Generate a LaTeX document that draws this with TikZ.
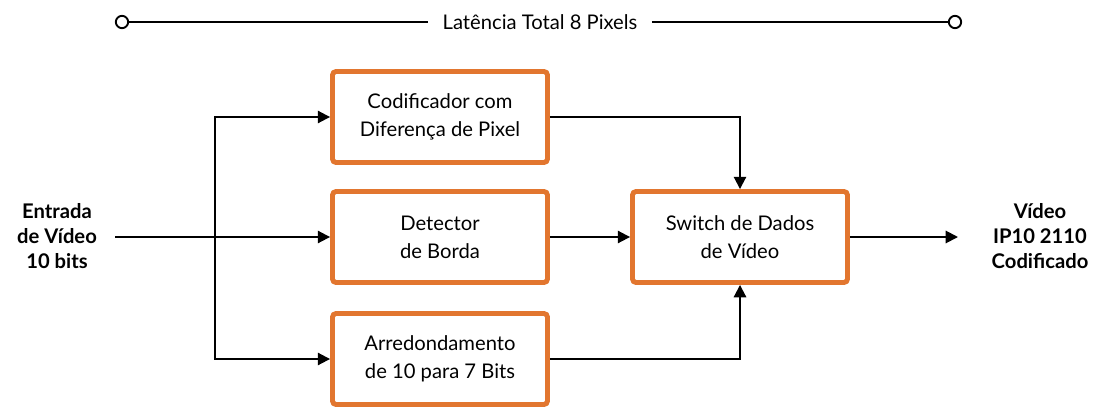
\documentclass[tikz,border=0pt]{standalone}
\usepackage{fontspec}
\setmainfont{Lato}
\usetikzlibrary{arrows.meta}
\definecolor{org}{HTML}{E2762F}
\begin{document}
\begin{tikzpicture}[x=0.02cm,y=-0.02cm,
  box/.style={draw=org,line width=2.8pt,rounded corners=2pt,minimum width=4.3cm,minimum height=1.82cm,align=center,font=\fontsize{11.5}{16}\selectfont},
  arr/.style={-{Triangle[length=7pt,width=7pt]},line width=1.1pt},
  lab/.style={align=center,font=\bfseries\fontsize{11.5}{14}\selectfont}]
\useasboundingbox (0,0) rectangle (1096,409);
\node[box] (b1) at (440,117) {Codificador com\\Diferença de Pixel};
\node[box] (b2) at (440,237) {Detector\\de Borda};
\node[box] (b3) at (440,359) {Arredondamento\\de 10 para 7 Bits};
\node[box] (sw) at (740,237) {Switch de Dados\\de Vídeo};
\node[lab] (in) at (57,236) {Entrada\\de Vídeo\\10 bits};
\node[lab] (out) at (1040,236) {Vídeo\\IP10 2110\\Codificado};
\coordinate (s) at (215,237);
\draw[arr] (115,237) coordinate(st) -- (b2.west);
\draw[arr] (s) |- (b1.west);
\draw[arr] (s) |- (b3.west);
\draw[arr] (b1.east) -| (sw.north);
\draw[arr] (b3.east) -| (sw.south);
\draw[arr] (b2.east) -- (sw.west);
\draw[arr] (sw.east) -- (958,237);
\node[font=\fontsize{11.5}{13}\selectfont,fill=white,inner sep=8pt] (t) at (540,22) {Latência Total 8 Pixels};
\coordinate (l) at (122,22); \coordinate (r) at (955,22);
\draw[line width=1.1pt] (l) -- (t.west) (t.east) -- (r);
\draw[line width=1.1pt,fill=white] (l) circle (3.5pt) (r) circle (3.5pt);
\end{tikzpicture}
\end{document}
